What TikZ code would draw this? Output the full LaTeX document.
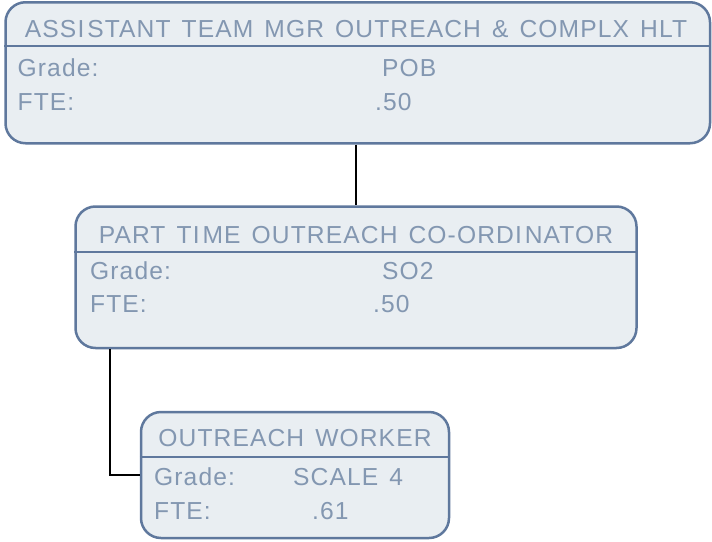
\documentclass[tikz,border=0pt]{standalone}
\usepackage{fontspec}
\setmainfont{Liberation Sans}
\newfontfamily\orgfont[LetterSpace=4.5, WordSpace=1.4]{Liberation Sans}
\usepackage{tikz}
\usetikzlibrary{positioning, calc}
\definecolor{boxfill}{HTML}{E9EEF2}
\definecolor{boxline}{HTML}{5F789D}
\definecolor{boxtext}{HTML}{8397B1}
\newcommand{\wideI}{I\kern3pt}

\begin{document}
\begin{tikzpicture}[x=1pt, y=-1pt,
  post/.style={draw=boxline, fill=boxfill, line width=2.5pt, rounded corners=20pt, inner sep=0pt},
  rule/.style={draw=boxline, line width=2pt},
  txt/.style={text=boxtext, font=\orgfont\fontsize{24.6}{28}\selectfont, inner sep=0pt, anchor=base west},
  head/.style={txt, anchor=base},
  link/.style={draw=black, line width=2.6pt}]
\useasboundingbox (0,0) rectangle (712,541);
% the three posts
\node[post, minimum width=704.5pt, minimum height=141pt] (mgr) at (357.75,72.75) {};
\node[post, minimum width=561pt, minimum height=141.5pt] (pto) at (356,277.25) {};
\node[post, minimum width=308pt, minimum height=126pt] (worker) at (295,475) {};
% header rules
\draw[rule] (mgr.west |- 0,46) -- (mgr.east |- 0,46);
\draw[rule] (pto.west |- 0,252) -- (pto.east |- 0,252);
\draw[rule] (worker.west |- 0,457) -- (worker.east |- 0,457);
% titles
\node[head] (mgr-title) at (356,37.5) {ASS\wideI STANT TEAM MGR OUTREACH \& COMPLX HLT};
\node[head] (pto-title) at (356,243) {PART T\wideI ME OUTREACH CO-ORD\wideI NATOR};
\node[head] (worker-title) at (295,446.5) {OUTREACH WORKER};
% row labels
\foreach \n/\x/\gy/\fy in {mgr/17.5/76/110, pto/90/279.5/312.5, worker/154/485/519} {
  \node[txt] (\n-grade) at (\x,\gy) {Grade:};
  \node[txt] (\n-fte) at (\x,\fy) {FTE:};
}
% values
\node[txt] (mgr-gv) at (382,76) {POB};
\node[txt] (mgr-fv) at (375,110) {.50};
\node[txt] (pto-gv) at (382,279.5) {SO2};
\node[txt] (pto-fv) at (373,312.5) {.50};
\node[txt] (worker-gv) at (293,485) {SCALE 4};
\node[txt] (worker-fv) at (312,519) {.61};
% reporting lines
\coordinate (drop) at (110,0);
\draw[link] (mgr.south -| pto.north) -- (pto.north);
\draw[link] (pto.south -| drop) |- (worker.west);
\end{tikzpicture}
\end{document}
